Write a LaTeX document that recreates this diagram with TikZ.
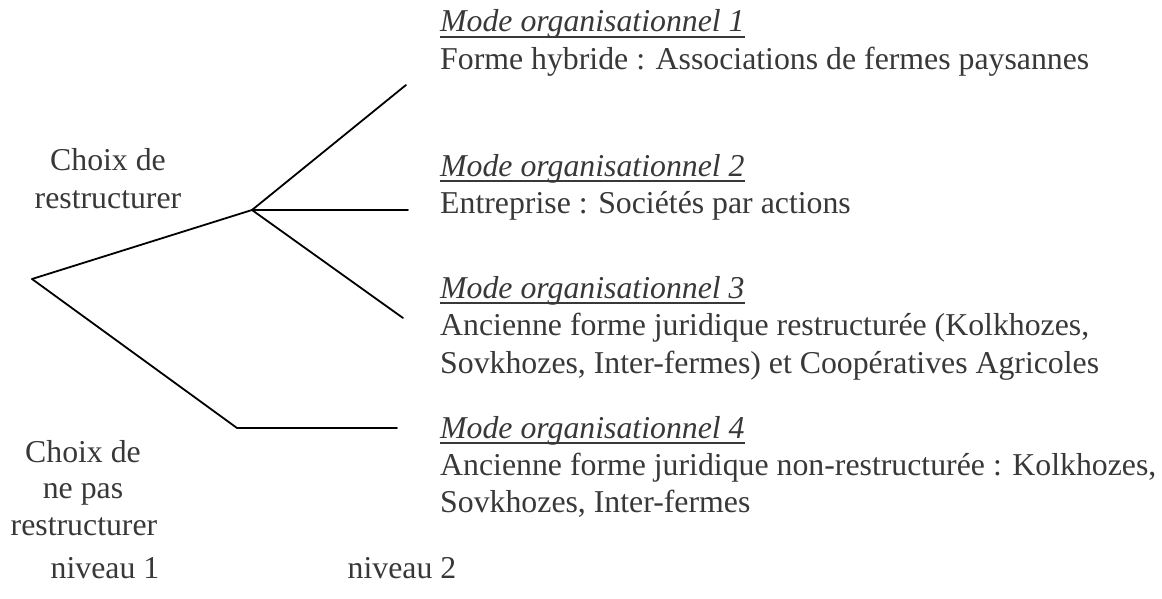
\documentclass[tikz,border=0pt]{standalone}
\usepackage{fontspec}
\setmainfont{Liberation Serif}
\definecolor{txt}{gray}{0.22}
\begin{document}
\begin{tikzpicture}[x=1pt,y=-1pt,
  lbl/.style={inner sep=0pt, anchor=base west, text=txt, font=\fontsize{31.8}{37}\selectfont},
  clbl/.style={lbl, anchor=base},
  ttl/.style={lbl, font=\fontsize{31.8}{37}\selectfont\itshape},
  branch/.style={line width=1.8pt, black, line cap=round, line join=round},
  uline/.style={line width=1.8pt, txt}]
\useasboundingbox (0,0) rectangle (1162,599);
% tree points
\coordinate (root) at (32,279);
\coordinate (n2) at (252,210);
\coordinate (e1) at (406,85);
\coordinate (e2) at (408,210);
\coordinate (e3) at (403,318);
\coordinate (m4) at (237,428);
\coordinate (e4) at (397,428);
\draw[branch] (root) -- (n2);
\draw[branch] (n2) -- (e1);
\draw[branch] (n2) -- (e2);
\draw[branch] (n2) -- (e3);
\draw[branch] (root) -- (m4) -- (e4);
% titles
\node[ttl] (t1) at (440,32) {Mode organisationnel 1\ };
\node[ttl] (t2) at (440,176) {Mode organisationnel 2\ };
\node[ttl] (t3) at (440,298) {Mode organisationnel 3\ };
\node[ttl] (t4) at (440,438) {Mode organisationnel 4\ };
\foreach \t in {t1,t2,t3,t4}
  \draw[uline] ([yshift=-5pt]\t.base west) -- ([yshift=-5pt]\t.base east);
% bodies
\node[lbl] (b1) at (440,70) {Forme hybride : Associations de fermes paysannes};
\node[lbl] (b2) at (440,213) {Entreprise : Sociétés par actions};
\node[lbl] (b3a) at (440,335) {Ancienne forme juridique restructurée (Kolkhozes,};
\node[lbl] (b3b) at (440,373) {Sovkhozes, Inter-fermes) et Coopératives Agricoles};
\node[lbl] (b4a) at (440,475) {Ancienne forme juridique non-restructurée : Kolkhozes,};
\node[lbl] (b4b) at (440,512) {Sovkhozes, Inter-fermes};
% left labels
\node[clbl] (c1a) at (108,171) {Choix de};
\node[clbl] (c1b) at (108,208) {restructurer};
\node[clbl] (c2a) at (83,462) {Choix de};
\node[clbl] (c2b) at (83,498) {ne pas};
\node[clbl] (c2c) at (84,535) {restructurer};
% levels
\node[clbl] (nv1) at (105,578) {niveau 1};
\node[clbl] (nv2) at (402,578) {niveau 2};
\end{tikzpicture}
\end{document}
